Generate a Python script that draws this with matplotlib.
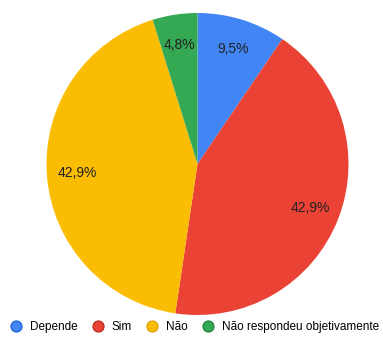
import matplotlib.pyplot as plt
from matplotlib.lines import Line2D

labels = ["Depende", "Sim", "Não", "Não respondeu objetivamente"]
values = [9.5, 42.9, 42.9, 4.8]
colors = ["#4285F4", "#EA4335", "#FBBC04", "#34A853"]
edges = ["#1a5fd0", "#b5281c", "#d99a00", "#1e7e3a"]

plt.rcParams['font.family'] = ['Liberation Sans', 'DejaVu Sans']


def fmt(p):
    return ("%.1f%%" % p).replace(".", ",")


def main():
    fig = plt.figure(figsize=(3.83, 3.42), dpi=100)
    ax = fig.add_axes([46.5 / 383, 27 / 342, 302 / 383, 302 / 342])
    ax.pie(values, colors=colors, startangle=90, counterclock=False,
           autopct=fmt, pctdistance=0.8, radius=1,
           wedgeprops=dict(linewidth=0),
           textprops=dict(fontsize=10, color="#222222"))
    ax.set_xlim(-1, 1)
    ax.set_ylim(-1, 1)
    ax.set_aspect("equal")
    ax.axis("off")

    handles = [Line2D([], [], linestyle="none", marker="o", markersize=8,
                      markerfacecolor=c, markeredgecolor=e, markeredgewidth=0.8)
               for c, e in zip(colors, edges)]
    fig.legend(handles, labels, loc="center", bbox_to_anchor=(194.5 / 383, 15 / 342),
               ncol=4, frameon=False, fontsize=8.5, handlelength=1,
               handletextpad=0.7, columnspacing=1.2, borderpad=0)

    fig.savefig("out.png", dpi=100)


if __name__ == "__main__":
    main()
